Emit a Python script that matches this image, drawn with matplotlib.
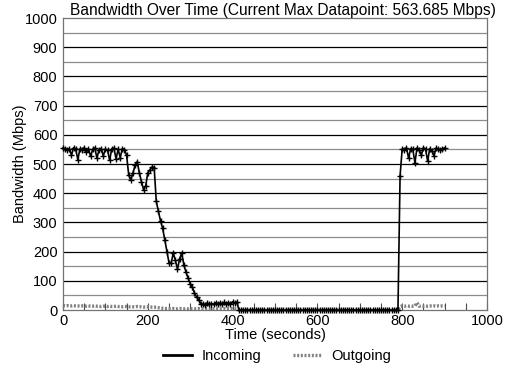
import matplotlib.pyplot as plt
import numpy as np

plt.rcParams["font.family"] = ["Liberation Sans", "DejaVu Sans"]

# samples every 5 seconds, 0..900 s
SAMPLE_STEP = 5
incoming = [
    555, 552, 548, 553, 530, 556, 550, 515, 552, 548,
    556, 540, 553, 526, 550, 555, 520, 549, 553, 528,
    551, 548, 513, 552, 555, 518, 550, 522, 553, 549,
    530, 462, 445, 470, 495, 508, 470, 440, 412, 425,
    470, 480, 490, 488, 372, 338, 305, 280, 240, 200,
    162, 160, 195, 170, 140, 175, 195, 155, 130, 110,
    90, 78, 58, 45, 35, 22, 20, 18, 24, 20,
    22, 19, 25, 22, 24, 20, 26, 22, 25, 21,
    28, 24, 27, 0, 0, 0, 0, 0, 0, 0,
    0, 0, 0, 0, 0, 0, 0, 0, 0, 0,
    0, 0, 0, 0, 0, 0, 0, 0, 0, 0,
    0, 0, 0, 0, 0, 0, 0, 0, 0, 0,
    0, 0, 0, 0, 0, 0, 0, 0, 0, 0,
    0, 0, 0, 0, 0, 0, 0, 0, 0, 0,
    0, 0, 0, 0, 0, 0, 0, 0, 0, 0,
    0, 0, 0, 0, 0, 0, 0, 0, 0, 460,
    552, 548, 556, 520, 553, 550, 505, 555, 548, 530,
    556, 551, 510, 553, 545, 528, 555, 550, 548, 553,
    555,
]
outgoing = [
    15, 14, 15, 14, 14, 15, 14, 14, 13, 14,
    14, 13, 14, 13, 13, 14, 13, 13, 12, 13,
    13, 12, 13, 12, 12, 13, 12, 12, 11, 12,
    12, 11, 12, 11, 11, 12, 11, 11, 10, 11,
    11, 10, 10, 10, 9, 8, 7, 6, 5, 5,
    5, 4, 5, 4, 4, 5, 4, 4, 4, 4,
    5, 4, 4, 4, 5, 4, 4, 4, 5, 4,
    4, 4, 5, 4, 4, 4, 5, 4, 4, 4,
    5, 4, 4, 0, 0, 0, 0, 0, 0, 0,
    0, 0, 0, 0, 0, 0, 0, 0, 0, 0,
    0, 0, 0, 0, 0, 0, 0, 0, 0, 0,
    0, 0, 0, 0, 0, 0, 0, 0, 0, 0,
    0, 0, 0, 0, 0, 0, 0, 0, 0, 0,
    0, 0, 0, 0, 0, 0, 0, 0, 0, 0,
    0, 0, 0, 0, 0, 0, 0, 0, 0, 0,
    0, 0, 0, 0, 0, 0, 0, 0, 0, 12,
    14, 13, 14, 13, 14, 13, 14, 25, 13, 14,
    13, 14, 13, 14, 13, 14, 13, 14, 13, 14,
    13,
]
times = np.arange(len(incoming)) * SAMPLE_STEP

x_ticks = [0, 200, 400, 600, 800, 1000]
y_ticks = list(range(0, 1001, 100))
max_datapoint = 563.685
FS = 10.5

fig = plt.figure(figsize=(5.12, 3.68), dpi=100)
ax = fig.add_axes([63 / 512, 1 - 310 / 368, 424 / 512, 292 / 368])

# horizontal grid: black every 100, grey in between
for y in range(50, 1000, 50):
    ax.axhline(y, color="black" if y % 100 == 0 else "0.55", lw=0.9, zorder=1)

ax.plot(times, outgoing, color="0.5", lw=2.4, ls=(0, (0.6, 0.5)), zorder=2,
        label="Outgoing", clip_on=False)
ax.plot(times, incoming, color="black", lw=1.2, marker="+", ms=4, mew=1.0,
        zorder=3, label="Incoming", clip_on=False)

ax.set_xlim(0, 1000)
ax.set_ylim(0, 1000)
ax.set_xticks(x_ticks)
ax.set_xticks(range(0, 1001, 50), minor=True)
ax.set_yticks(y_ticks)
ax.tick_params(axis="x", which="both", direction="in", length=5, width=0.8,
               color="0.3", labelsize=FS, pad=3)
ax.tick_params(axis="y", length=0, labelsize=FS, pad=4)
for s in ax.spines.values():
    s.set_color("0.45")
    s.set_linewidth(0.9)

ax.set_xlabel("Time (seconds)", fontsize=FS, labelpad=0)
ax.set_ylabel("Bandwidth (Mbps)", fontsize=FS)
ax.yaxis.set_label_coords(-0.086, 0.5)
fig.text(283 / 512, 1 - 10 / 368,
         f"Bandwidth Over Time (Current Max Datapoint: {max_datapoint} Mbps)",
         ha="center", va="center", fontsize=11.2)

h, l = ax.get_legend_handles_labels()
leg = fig.legend(h[::-1], l[::-1], loc="center", ncol=2, frameon=False,
                 bbox_to_anchor=(277 / 512, 1 - 356 / 368), fontsize=FS,
                 handlelength=2.0, columnspacing=2.2, handletextpad=0.6)
for line in leg.get_lines():
    line.set_marker("")
leg.get_lines()[0].set_linewidth(2.0)

fig.savefig("out.png", dpi=100)
